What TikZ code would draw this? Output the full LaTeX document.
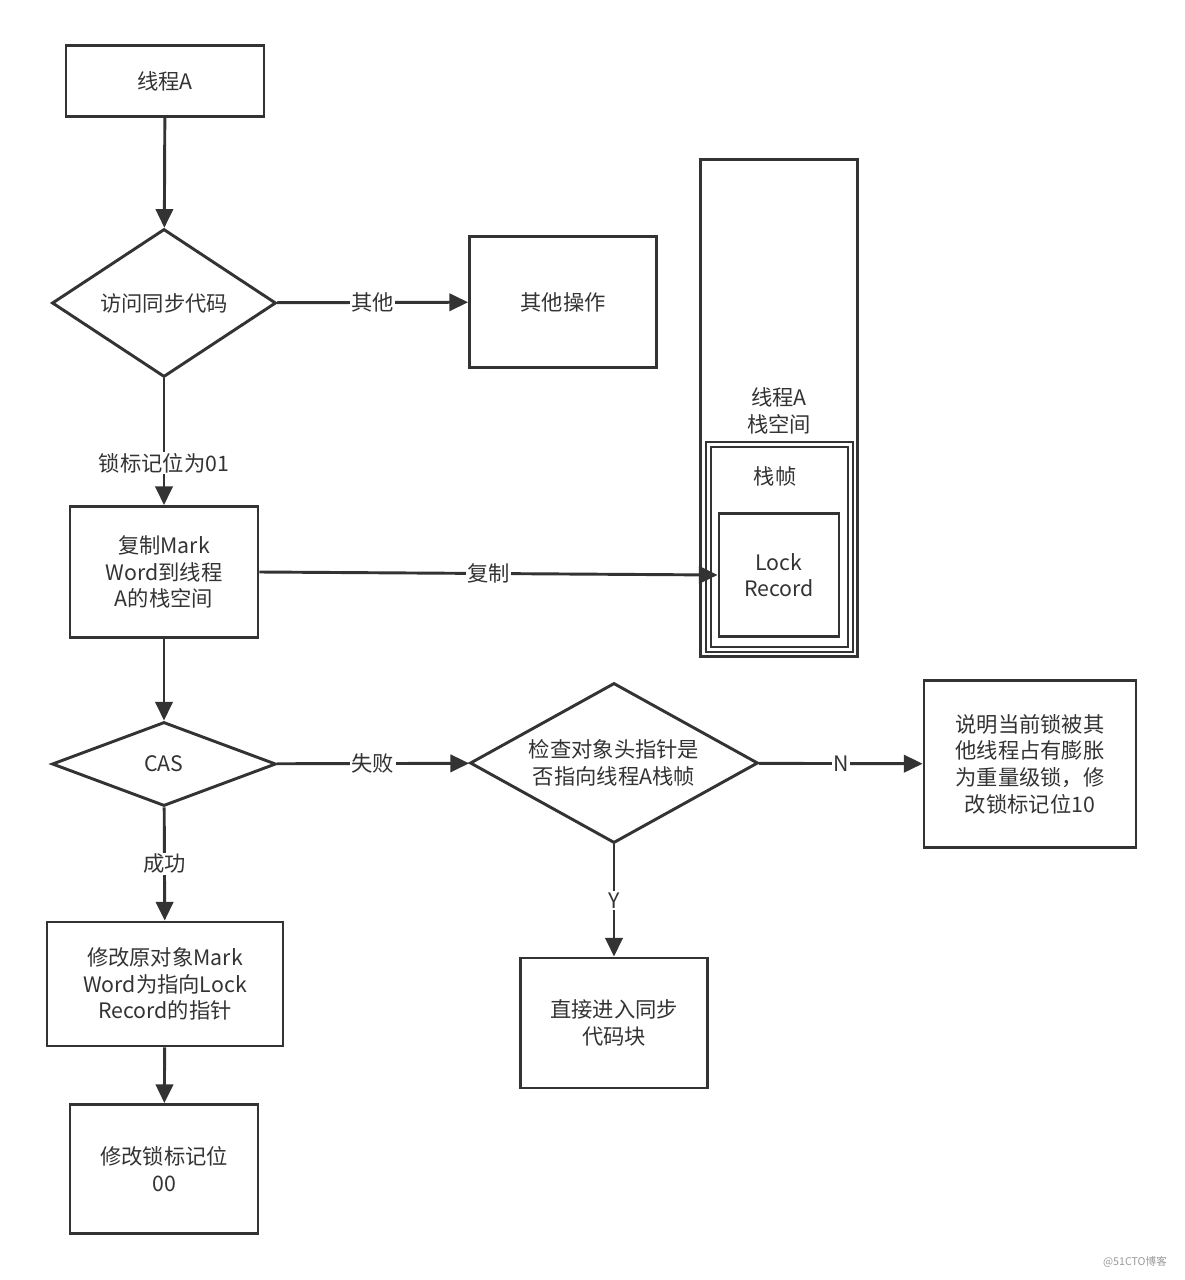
\documentclass[tikz,border=0pt]{standalone}
\usepackage{fontspec}
\setmainfont{Noto Sans CJK SC}
\usetikzlibrary{shapes.geometric,arrows.meta}
\begin{document}
\begin{tikzpicture}[x=0.0264cm,y=-0.0264cm,
  lw/.style={line width=2.2pt,draw=black!80},
  box/.style={lw,rectangle,inner sep=0pt,align=center,font=\fontsize{16}{20}\selectfont,text=black!80},
  dia/.style={lw,diamond,aspect=1.5,inner sep=0pt,align=center,font=\fontsize{16}{20}\selectfont,text=black!80},
  arr/.style={lw,-{Triangle[length=14pt,width=13pt]}},
  lab/.style={fill=white,inner sep=1pt,font=\fontsize{16}{20}\selectfont,text=black!80}]
\useasboundingbox (0,0) rectangle (1184,1280);
\node[box,minimum width=198*0.0264cm,minimum height=71*0.0264cm] (a) at (165,81) {线程A};
\node[dia,minimum width=224*0.0264cm,minimum height=148*0.0264cm] (d1) at (164,303) {访问同步代码};
\node[box,minimum width=187*0.0264cm,minimum height=131*0.0264cm] (o) at (563,302) {其他操作};
\node[box,minimum width=188*0.0264cm,minimum height=131*0.0264cm] (c) at (164,572) {复制Mark\\Word到线程\\A的栈空间};
\node[box,minimum width=157*0.0264cm,minimum height=497*0.0264cm] (st) at (779,408) {};
\node[font=\fontsize{16}{20}\selectfont,text=black!80,align=center] (stl) at (779,411) {线程A\\栈空间};
\draw[lw] (706,442) rectangle (853,652);
\draw[lw] (711,447) rectangle (848,647);
\node[font=\fontsize{16}{20}\selectfont,text=black!80] (zz) at (775,476) {栈帧};
\node[box,minimum width=120*0.0264cm,minimum height=123*0.0264cm] (lr) at (779,575) {Lock\\Record};
\node[dia,minimum width=224*0.0264cm,minimum height=84*0.0264cm] (cas) at (164,764) {CAS};
\node[dia,minimum width=288*0.0264cm,minimum height=148*0.0264cm] (d2) at (614,763) {检查对象头指针是\\否指向线程A栈帧};
\node[box,minimum width=212*0.0264cm,minimum height=167*0.0264cm] (n) at (1030,764) {说明当前锁被其\\他线程占有膨胀\\为重量级锁，修\\改锁标记位10};
\node[box,minimum width=187*0.0264cm,minimum height=130*0.0264cm] (y) at (614,1023) {直接进入同步\\代码块};
\node[box,minimum width=236*0.0264cm,minimum height=124*0.0264cm] (m) at (165,984) {修改原对象Mark\\Word为指向Lock\\Record的指针};
\node[box,minimum width=188*0.0264cm,minimum height=129*0.0264cm] (f) at (164,1169) {修改锁标记位\\00};
\draw[arr] (a) -- (d1);
\draw[arr] (d1) -- node[lab]{其他} (o);
\draw[arr] (d1) -- node[lab,pos=0.67]{锁标记位为01} (c);
\draw[arr] (c.east) -- node[lab,pos=0.5]{复制} (lr.west);
\draw[arr] (c) -- (cas);
\draw[arr] (cas) -- node[lab]{失败} (d2);
\draw[arr] (d2) -- node[lab,pos=0.5]{N} (n);
\draw[arr] (d2) -- node[lab,pos=0.5]{Y} (y);
\draw[arr] (cas) -- node[lab,pos=0.5]{成功} (m);
\draw[arr] (m) -- (f);
\node[text=black!40,font=\fontsize{8}{10}\selectfont] (wm) at (1135,1262) {@51CTO博客};
\end{tikzpicture}
\end{document}
